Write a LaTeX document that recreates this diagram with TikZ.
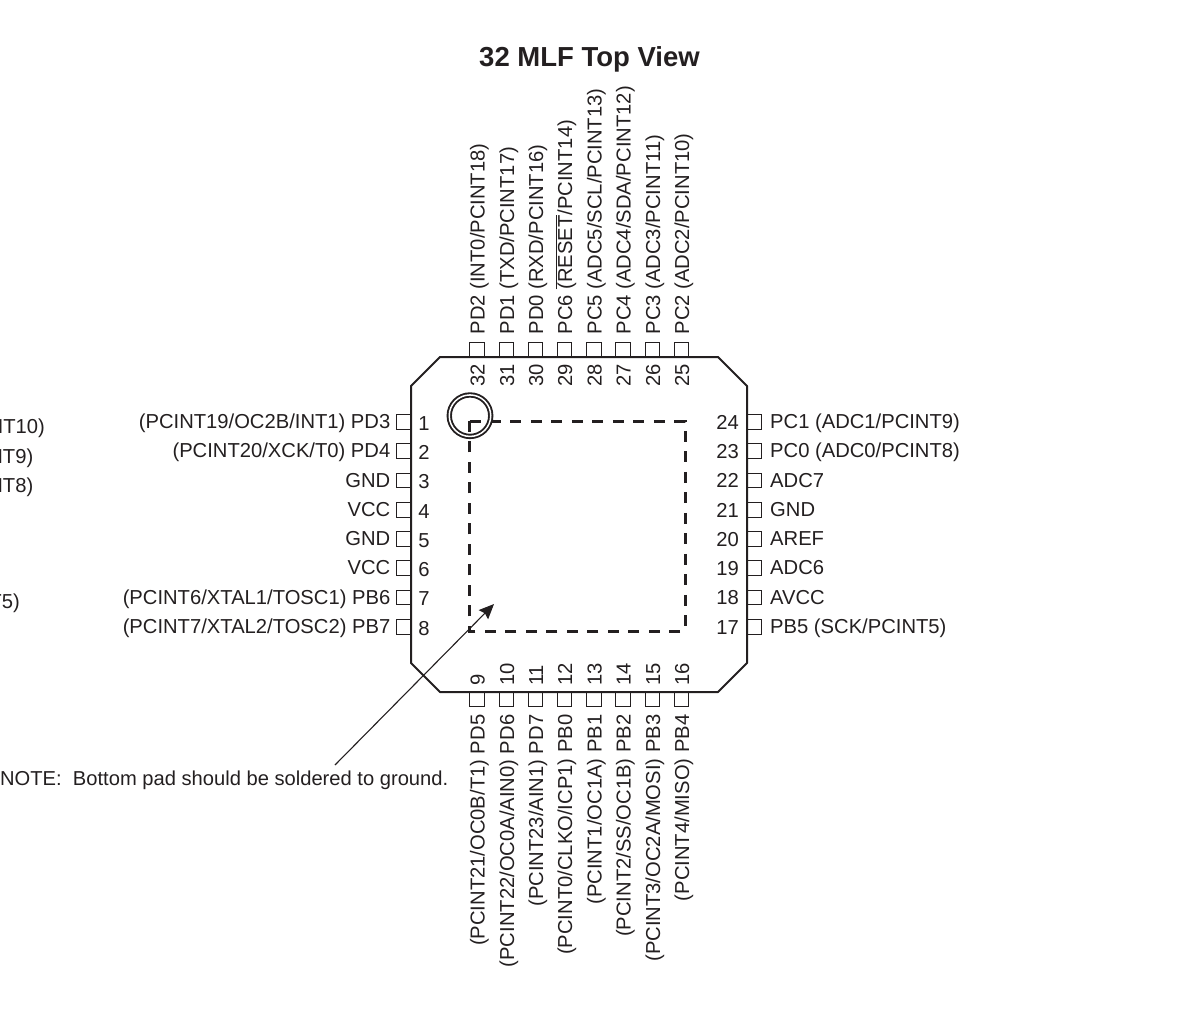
\documentclass[tikz,border=0pt]{standalone}
\usepackage{fontspec}
\usetikzlibrary{arrows.meta}
\setmainfont{Liberation Sans}
\definecolor{inkblack}{HTML}{231F20}
\tikzset{
  pad/.style={draw=inkblack,line width=1.1pt,rectangle,minimum size=14.5pt,inner sep=0pt},
  pinlabel/.style={text=inkblack,inner sep=0pt,font=\fontsize{20.2}{24}\selectfont,text height=15pt,text depth=4pt},
}
\begin{document}
\begin{tikzpicture}[x=1pt,y=-1pt]
    \useasboundingbox (0,0) rectangle (1196,1032);
    \node[inner sep=0pt,text=inkblack,font=\fontsize{27.5}{32}\bfseries\selectfont](title)at(589.5,59){32 MLF Top View};
    % package outline
    \draw[inkblack,line width=2pt,line join=round](440,357)--(718,357)--(747,386)--(747,663)--(718,692)--(440,692)--(411,663)--(411,386)--cycle;
    \draw[inkblack,line width=3pt,dash pattern=on 11pt off 9.49pt](469.5,421)--(685,421)--(685,631)--(469.5,631)--cycle;
    \node[circle,draw=inkblack,line width=1.9pt,double=white,double distance=1.5pt,minimum size=41.5pt,inner sep=0pt](dot)at(470,415.7){};
    % left side
    \foreach \n/\y/\t in {1/422/{(PCINT19/OC2B/INT1) PD3},2/451/{(PCINT20/XCK/T0) PD4},3/480.5/GND,4/510/VCC,5/539/GND,6/568/VCC,7/597.5/{(PCINT6/XTAL1/TOSC1) PB6},8/627/{(PCINT7/XTAL2/TOSC2) PB7}}{
        \node[pad](p\n)at(404,\y){};
        \node[pinlabel,anchor=east](t\n)at(390.5,\y+1){\t};
        \node[pinlabel](n\n)at(424,\y+2.5){\n};
    }
    % right side
    \foreach \n/\y/\t in {24/422/{PC1 (ADC1/PCINT9)},23/451/{PC0 (ADC0/PCINT8)},22/480.5/ADC7,21/510/GND,20/539/AREF,19/568/ADC6,18/597.5/AVCC,17/627/{PB5 (SCK/PCINT5)}}{
        \node[pad](p\n)at(754,\y){};
        \node[pinlabel,anchor=west](t\n)at(770,\y+1){\t};
        \node[pinlabel,anchor=east](n\n)at(739,\y+1.5){\n};
    }
    % top side
    \foreach \n/\x/\t in {32/477/{PD2 (INT0/PCINT18)},31/506.5/{PD1 (TXD/PCINT17)},30/535.5/{PD0 (RXD/PCINT16)},29/564.5/{PC6 $\overline{\mbox{(RESET}}$/PCINT14)},28/594/{PC5 (ADC5/SCL/PCINT13)},27/623/{PC4 (ADC4/SDA/PCINT12)},26/652.5/{PC3 (ADC3/PCINT11)},25/681.5/{PC2 (ADC2/PCINT10)}}{
        \node[pad](p\n)at(\x,349.5){};
        \node[pinlabel,rotate=90,anchor=west](t\n)at(\x+2,334.5){\t};
        \node[pinlabel,rotate=90,anchor=east](n\n)at(\x+2,364){\n};
    }
    % bottom side
    \foreach \n/\x/\t in {9/477/{(PCINT21/OC0B/T1) PD5},10/506.5/{(PCINT22/OC0A/AIN0) PD6},11/535.5/{(PCINT23/AIN1) PD7},12/564.5/{(PCINT0/CLKO/ICP1) PB0},13/594/{(PCINT1/OC1A) PB1},14/623/{(PCINT2/SS/OC1B) PB2},15/652.5/{(PCINT3/OC2A/MOSI) PB3},16/681.5/{(PCINT4/MISO) PB4}}{
        \node[pad](p\n)at(\x,699.5){};
        \node[pinlabel,rotate=90,anchor=east](t\n)at(\x+2,714.5){\t};
        \node[pinlabel,rotate=90,anchor=west](n\n)at(\x+2,686){\n};
    }
    % clipped labels of the neighbouring view
    \node[pinlabel,anchor=east](c1)at(45,428){NT10)};
    \node[pinlabel,anchor=east](c2)at(33.5,457.5){NT9)};
    \node[pinlabel,anchor=east](c3)at(33.5,487){NT8)};
    \node[pinlabel,anchor=east](c4)at(20,603){T5)};
    % note
    \node[pinlabel,anchor=west,font=\fontsize{20.15}{24}\selectfont](note)at(0,779.5){NOTE:\ \ Bottom pad should be soldered to ground.};
    \coordinate(notetip)at(335,765);
    \coordinate(padtip)at(494,604);
    \draw[-{Stealth[length=15pt,width=13pt,inset=2pt]},inkblack,line width=1.1pt](notetip)--(padtip);
\end{tikzpicture}
\end{document}
